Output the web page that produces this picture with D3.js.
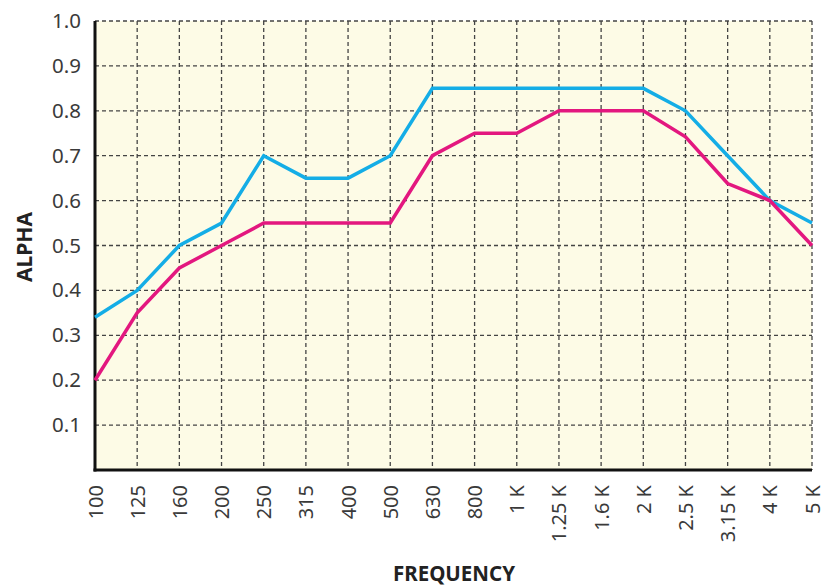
<!DOCTYPE html>
<html><head><meta charset="utf-8">
<script src="https://cdn.jsdelivr.net/npm/d3@7"></script>
<style>body{margin:0;background:#fff}</style>
</head><body>
<svg id="c" width="829" height="586"></svg>
<script>
const categories = ["100","125","160","200","250","315","400","500","630","800","1 K","1.25 K","1.6 K","2 K","2.5 K","3.15 K","4 K","5 K"];
const seriesBlue = [0.34,0.40,0.50,0.55,0.70,0.65,0.65,0.70,0.85,0.85,0.85,0.85,0.85,0.85,0.80,0.70,0.60,0.55];
const seriesPink = [0.20,0.35,0.45,0.50,0.55,0.55,0.55,0.55,0.70,0.75,0.75,0.80,0.80,0.80,0.742,0.638,0.60,0.50];
const yTicks = [0.1,0.2,0.3,0.4,0.5,0.6,0.7,0.8,0.9,1.0];

const svg = d3.select("#c");
const L = 95, R = 812, T = 21, B = 470;
const x = d3.scalePoint().domain(categories).range([L, R]);
const y = d3.scaleLinear().domain([0, 1]).range([B, T]);
const font = "'Noto Sans', 'Open Sans', sans-serif";

svg.append("rect").attr("x", L).attr("y", T).attr("width", R - L).attr("height", B - T).attr("fill", "#fdfbe6");

// grid
const g = svg.append("g");
g.selectAll(".hg").data(yTicks).join("line")
  .attr("x1", L).attr("x2", R).attr("y1", d => y(d)).attr("y2", d => y(d))
  .attr("stroke", "#444").attr("stroke-width", 1.3).attr("stroke-dasharray", "4,3");
g.selectAll(".vg").data(categories.slice(1)).join("line")
  .attr("x1", d => x(d)).attr("x2", d => x(d)).attr("y1", T).attr("y2", B)
  .attr("stroke", "#444").attr("stroke-width", 1.3).attr("stroke-dasharray", "4,3");

// axes
const yAxis = svg.append("g").attr("transform", `translate(${L},0)`)
  .call(d3.axisLeft(y).tickValues(yTicks).tickFormat(d3.format(".1f")).tickSize(0).tickPadding(14));
yAxis.select(".domain").remove();
yAxis.selectAll("text").attr("font-family", font).attr("font-size", 20.5).attr("fill", "#3a3a3a");

const xAxis = svg.append("g").attr("transform", `translate(0,${B})`)
  .call(d3.axisBottom(x).tickSize(0));
xAxis.select(".domain").remove();
xAxis.selectAll("text")
  .attr("font-family", font).attr("font-size", 20).attr("fill", "#3a3a3a")
  .attr("transform", "rotate(-90)")
  .attr("text-anchor", "end")
  .attr("x", -15).attr("y", 0).attr("dy", "0.35em");

svg.append("line").attr("x1", L).attr("x2", L).attr("y1", T).attr("y2", B + 1.5)
  .attr("stroke", "#111").attr("stroke-width", 3);
svg.append("line").attr("x1", L - 1.5).attr("x2", R).attr("y1", B).attr("y2", B)
  .attr("stroke", "#111").attr("stroke-width", 3);

// lines
const line = d3.line().x((d, i) => x(categories[i])).y(d => y(d));
svg.append("path").datum(seriesBlue).attr("d", line).attr("fill", "none")
  .attr("stroke", "#14ade6").attr("stroke-width", 3.5).attr("stroke-linejoin", "miter");
svg.append("path").datum(seriesPink).attr("d", line).attr("fill", "none")
  .attr("stroke", "#e3177f").attr("stroke-width", 3.5).attr("stroke-linejoin", "miter");

// titles
svg.append("text").attr("x", 454).attr("y", 581).attr("text-anchor", "middle")
  .attr("font-family", font).attr("font-weight", "bold").attr("font-size", 20.5).attr("fill", "#222").text("FREQUENCY");
svg.append("text").attr("transform", "translate(32,247) rotate(-90)").attr("text-anchor", "middle")
  .attr("font-family", font).attr("font-weight", "bold").attr("font-size", 21).attr("fill", "#222").text("ALPHA");
</script>
</body></html>
